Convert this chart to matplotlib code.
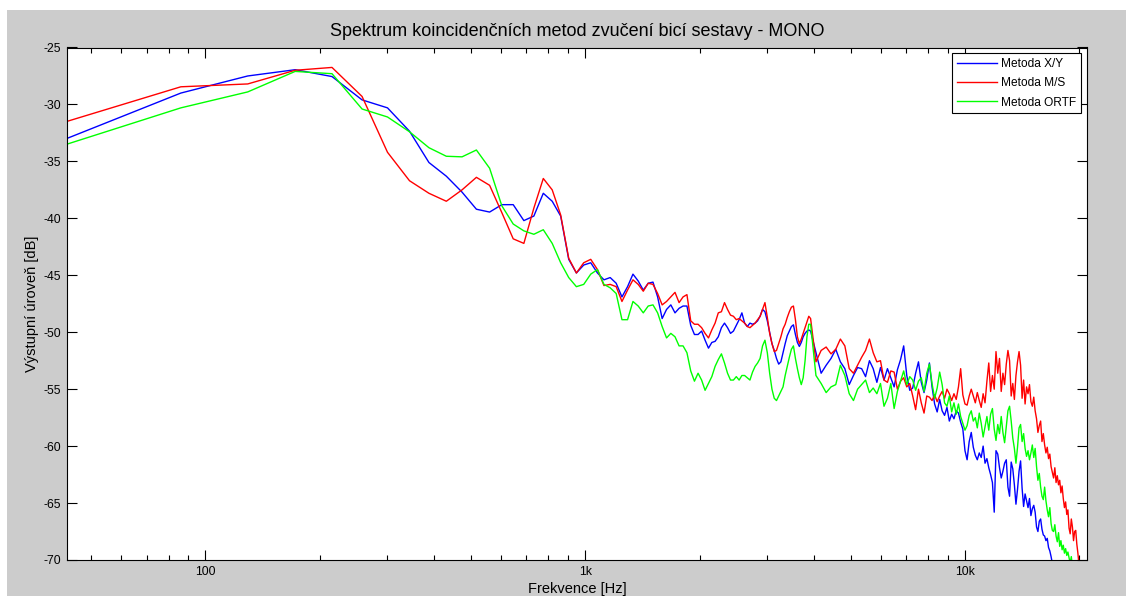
import numpy as np
import matplotlib
matplotlib.use("Agg")
from matplotlib import pyplot as plt
from matplotlib.patches import Rectangle
from matplotlib.ticker import FixedLocator, LogLocator, NullFormatter

plt.rcParams['font.family'] = ['Liberation Sans', 'DejaVu Sans']
plt.rcParams['axes.unicode_minus'] = False

# FFT bin spacing (44.1 kHz, 1024 points)
df = 44100 / 1024
freq_lo = df * np.arange(1, 91)          # every bin up to ~3.9 kHz
freq_hi = df * np.arange(91, 488, 3)     # every 3rd bin above

# Metoda X/Y
xy_lo = [-33.0, -29.0, -27.5, -26.95, -27.55, -29.6, -30.3, -32.35, -35.1, -36.3,
         -37.7, -39.2, -39.45, -38.8, -38.8, -40.2, -39.8, -37.8, -38.5, -39.8,
         -43.6, -44.8, -44.1, -43.9, -44.8, -45.4, -45.2, -45.7, -46.9, -46.0,
         -44.9, -45.5, -46.3, -45.7, -45.6, -46.9, -48.8, -48.0, -47.6, -48.3,
         -47.9, -47.7, -47.7, -49.4, -50.2, -50.2, -49.9, -50.7, -51.4, -50.9,
         -50.8, -50.4, -49.6, -49.2, -49.6, -50.1, -49.9, -49.4, -48.9, -48.3,
         -49.2, -49.5, -49.2, -49.3, -49.2, -49.0, -48.6, -48.0, -48.2, -49.0,
         -50.0, -51.0, -51.6, -52.3, -52.8, -52.6, -51.8, -51.0, -50.3, -49.9,
         -49.5, -49.35, -50.2, -50.9, -51.25, -50.9, -50.4, -50.1, -49.9, -49.8]
xy_hi = [-49.9, -51.8, -53.6, -52.9, -52.3, -51.5, -52.6, -53.2, -54.6, -53.8,
         -53.1, -53.2, -53.9, -52.5, -53.2, -54.4, -53.1, -54.2, -53.2, -54.0,
         -54.8, -53.3, -52.4, -51.2, -53.8, -55.1, -54.9, -53.6, -52.6, -54.4,
         -55.3, -54.2, -52.7, -54.8, -56.3, -57.0, -55.9, -56.9, -57.3, -56.6,
         -57.8, -57.2, -57.6, -56.9, -57.1, -57.9, -58.5, -60.4, -61.2, -59.6,
         -58.8, -60.1, -60.8, -61.2, -60.6, -61.0, -60.0, -61.5, -61.1, -61.9,
         -62.5, -63.2, -65.8, -60.4, -60.7, -61.9, -62.8, -62.2, -61.5, -61.2,
         -63.6, -64.4, -61.4, -62.0, -63.4, -65.1, -63.8, -62.2, -61.3, -63.7,
         -65.3, -64.2, -64.8, -65.4, -64.6, -66.1, -65.5, -65.2, -65.8, -67.1,
         -67.5, -66.6, -66.4, -67.3, -67.8, -67.9, -68.3, -68.1, -68.9, -69.2,
         -69.7, -70.3]

# Metoda M/S
ms_lo = [-31.5, -28.45, -28.2, -27.0, -26.75, -29.3, -34.2, -36.7, -37.8, -38.5,
         -37.5, -36.4, -37.1, -39.5, -41.8, -42.2, -39.1, -36.5, -37.5, -39.7,
         -43.5, -44.8, -43.9, -43.6, -44.5, -45.9, -45.8, -46.0, -47.3, -46.3,
         -45.4, -45.8, -46.4, -45.7, -45.8, -46.6, -47.6, -47.3, -46.9, -46.5,
         -47.4, -46.9, -46.7, -49.0, -49.3, -49.3, -49.6, -50.1, -50.5, -49.8,
         -49.2, -48.3, -48.2, -47.4, -48.0, -48.5, -48.6, -48.9, -48.8, -49.0,
         -49.2, -49.5, -49.6, -49.4, -49.2, -48.9, -48.6, -48.0, -47.4, -48.7,
         -50.1, -51.0, -51.7, -51.6, -51.0, -50.4, -49.7, -49.3, -48.7, -48.2,
         -47.8, -47.7, -48.9, -50.4, -51.0, -50.6, -50.1, -49.6, -49.1, -48.6]
ms_hi = [-48.8, -52.6, -51.6, -51.3, -51.9, -51.5, -50.6, -51.2, -53.2, -53.6,
         -52.9, -52.2, -51.6, -50.6, -51.8, -52.6, -52.5, -54.2, -54.4, -53.4,
         -53.5, -55.0, -54.3, -54.0, -54.8, -54.5, -55.6, -56.8, -55.0, -56.2,
         -57.1, -55.6, -55.7, -56.0, -55.5, -56.1, -55.6, -55.2, -55.8, -55.0,
         -55.4, -56.0, -55.4, -55.9, -54.8, -53.2, -55.5, -56.3, -56.4, -55.6,
         -55.0, -55.6, -56.2, -55.3, -56.0, -56.6, -55.4, -56.2, -54.3, -52.7,
         -55.2, -53.8, -55.0, -51.7, -53.6, -52.3, -55.2, -53.6, -54.6, -52.8,
         -51.6, -52.5, -55.6, -54.5, -55.9, -53.8, -52.6, -51.7, -52.9, -55.8,
         -54.2, -56.3, -54.8, -55.4, -54.6, -56.1, -56.5, -55.7, -56.9, -57.6,
         -58.8, -58.2, -57.8, -59.6, -58.9, -59.9, -60.6, -60.1, -61.1, -60.7,
         -61.8, -62.3, -62.8, -61.9, -63.2, -62.6, -63.4, -63.0, -64.1, -63.5,
         -64.6, -65.4, -64.9, -66.0, -65.6, -67.2, -67.7, -66.4, -67.1, -68.3,
         -67.5, -67.4, -68.6, -69.4, -70.4, -71.2]

# Metoda ORTF
ortf_lo = [-33.5, -30.3, -28.9, -27.1, -27.3, -30.4, -31.1, -32.4, -33.8, -34.55,
           -34.6, -34.0, -35.6, -38.9, -40.5, -41.1, -41.4, -41.0, -42.2, -43.9,
           -45.2, -46.0, -45.8, -44.9, -44.5, -45.8, -46.1, -46.6, -48.9, -48.9,
           -47.3, -47.7, -48.3, -47.7, -47.6, -48.3, -49.5, -50.5, -50.1, -50.4,
           -51.2, -51.2, -51.8, -53.4, -54.3, -53.6, -54.2, -55.1, -54.5, -53.9,
           -53.0, -52.4, -51.9, -52.7, -53.6, -54.2, -54.2, -53.9, -54.2, -53.8,
           -53.8, -54.0, -54.2, -53.5, -53.0, -52.7, -52.3, -51.2, -50.7, -51.8,
           -53.6, -55.0, -55.8, -56.0, -55.6, -55.2, -54.8, -53.8, -53.0, -52.2,
           -51.5, -51.2, -52.3, -53.2, -54.0, -54.6, -54.0, -52.5, -50.4, -49.3]
ortf_hi = [-49.3, -53.8, -54.5, -55.3, -54.8, -54.6, -52.9, -53.8, -55.4, -56.0,
           -55.0, -54.6, -54.2, -55.3, -54.9, -55.4, -54.5, -56.5, -55.8, -54.5,
           -56.7, -55.2, -54.3, -53.4, -54.6, -53.9, -54.2, -55.1, -54.3, -54.0,
           -55.2, -53.6, -52.8, -54.5, -55.8, -54.9, -53.5, -54.6, -56.2, -56.5,
           -55.6, -57.0, -56.2, -57.2, -56.3, -57.4, -58.0, -58.6, -58.2, -57.3,
           -56.9, -57.8, -57.5, -58.4, -57.1, -58.0, -59.2, -58.3, -57.4, -58.6,
           -57.2, -56.7, -58.5, -59.5, -58.1, -58.9, -57.4, -58.8, -59.7, -58.3,
           -56.9, -56.5, -57.8, -59.3, -60.2, -61.5, -60.1, -58.4, -58.1, -59.6,
           -58.9, -60.2, -60.9, -60.4, -61.2, -60.6, -59.9, -61.0, -60.2, -61.8,
           -63.0, -62.4, -63.6, -64.4, -64.7, -63.6, -64.8, -65.6, -66.2, -65.4,
           -66.8, -67.4, -67.5, -66.9, -67.9, -68.4, -67.6, -68.8, -68.3, -69.1,
           -68.7, -69.4, -69.0, -69.6, -69.3, -69.8, -70.3, -69.7, -70.6, -71.0]

labels = ['Metoda X/Y', 'Metoda M/S', 'Metoda ORTF']
colors = ['#0000ff', '#ff0000', '#00ff00']
series = [(xy_lo, xy_hi), (ms_lo, ms_hi), (ortf_lo, ortf_hi)]

fig = plt.figure(figsize=(11.26, 5.96), dpi=100, facecolor='white')
# grey window panel
fig.patches.append(Rectangle((7 / 1126, 0), 1, 1 - 10 / 596, transform=fig.transFigure,
                             facecolor='#cccccc', edgecolor='none', zorder=-10))

ax = fig.add_axes([66.5 / 1126, 1 - 560 / 596, (1087.3 - 66.5) / 1126, (560 - 47.5) / 596])
ax.set_facecolor('white')

for (lo, hi), col, lab in zip(series, colors, labels):
    f = np.concatenate([freq_lo, freq_hi[:len(hi)]])
    y = np.concatenate([lo, hi])
    ax.plot(f, y, color=col, linewidth=1.0, label=lab)

ax.set_xscale('log')
ax.set_xlim(df, 487 * df)
ax.set_ylim(-70, -25)

ax.xaxis.set_major_locator(FixedLocator([100, 1000, 10000]))
ax.set_xticklabels(['100', '1k', '10k'])
ax.xaxis.set_minor_locator(LogLocator(base=10, subs=np.arange(2, 10)))
ax.xaxis.set_minor_formatter(NullFormatter())
yt = np.arange(-70, -24, 5)
ax.set_yticks(yt)
ax.set_yticklabels([str(v) for v in yt])

ax.tick_params(which='both', direction='in', top=True, right=True,
               labelsize=8.8, colors='black', width=0.8)
ax.tick_params(which='major', length=7, pad=4)
ax.tick_params(which='minor', length=3.6)
for s in ax.spines.values():
    s.set_linewidth(0.8)
    s.set_color('black')

ax.set_title('Spektrum koincidenčních metod zvučení bicí sestavy - MONO', fontsize=13, pad=8)
ax.set_xlabel('Frekvence [Hz]', fontsize=10.5, labelpad=3)
ax.set_ylabel('Výstupní úroveň [dB]', fontsize=10.5, labelpad=3)

leg = ax.legend(loc='upper right', fontsize=8.6, fancybox=False, framealpha=1,
                edgecolor='black', handlelength=3.4, handletextpad=0.35,
                labelspacing=0.6, borderpad=0.4, borderaxespad=0.5)
leg.get_frame().set_linewidth(0.8)

fig.savefig('out.png', dpi=100, facecolor=fig.get_facecolor())
